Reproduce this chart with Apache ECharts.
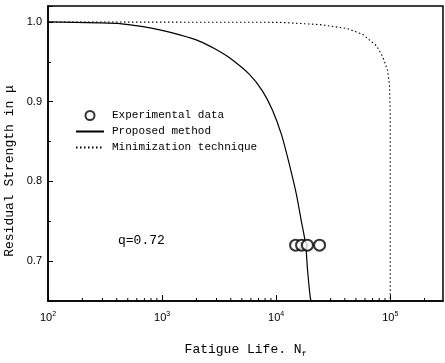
<!DOCTYPE html>
<html>
<head>
	<meta charset="utf-8">
	<title>Residual strength</title>
	<script src="https://cdn.jsdelivr.net/npm/echarts@6/dist/echarts.min.js"></script>
	<style>
		body{margin:0;background:#fff;}
		#main{width:445px;height:363px;}
	</style>
</head>
<body>
	<div id="main"></div>
	<script>
		// proposed method (solid)
		var propX = [100, 285, 427, 638, 955, 1430, 2140, 2900, 3920, 5860, 7620, 9310, 11170, 12860, 15030, 16630, 18130, 18880, 19910, 20230];
		var propY = [1.0, 0.9988, 0.998, 0.9947, 0.990, 0.9837, 0.9757, 0.9663, 0.9548, 0.934, 0.913, 0.889, 0.858, 0.825, 0.784, 0.750, 0.721, 0.687, 0.654, 0.65];
		// minimization technique (dotted)
		var minX = [100, 10740, 24000, 41400, 57100, 75900, 85700, 94600, 98500, 100000, 100000];
		var minY = [1.0, 0.9995, 0.9967, 0.9919, 0.9846, 0.970, 0.9566, 0.9396, 0.9213, 0.885, 0.65];
		// experimental data
		var expX = [14800, 16700, 18800, 24000];
		var expY = [0.72, 0.72, 0.72, 0.72];
		// minor ticks of the log axis
		var minorX = [200, 300, 400, 500, 600, 700, 800, 900, 2000, 3000, 4000, 5000, 6000, 7000, 8000, 9000,
			20000, 30000, 40000, 50000, 60000, 70000, 80000, 90000, 200000];

		var yMin = 0.65, yMax = 1.02;
		var xMin = 100, xMax = 290000;
		var mono = '"Liberation Mono", monospace';

		function zip(a, b){
			var out = [];
			for(var i = 0; i < a.length; i++){
				out.push([a[i], b[i]]);
			}
			return out;
		}

		var chart = echarts.init(document.getElementById('main'));
		chart.setOption({
			animation: false,
			backgroundColor: '#fff',
			grid: {left: 48, right: 2, top: 6, bottom: 52, show: true, borderColor: '#000', borderWidth: 1.5},
			legend: {
				data: [
					{name: 'Experimental data'},
					{name: 'Proposed method', itemStyle: {opacity: 0}},
					{name: 'Minimization technique', itemStyle: {opacity: 0}}
				],
				orient: 'vertical',
				left: 75,
				top: 110,
				padding: 0,
				itemWidth: 28,
				itemHeight: 9,
				itemGap: 5,
				textStyle: {fontFamily: mono, fontSize: 11, color: '#000', lineHeight: 9, padding: [0, 0, 0, 3]}
			},
			xAxis: {
				type: 'log',
				logBase: 10,
				min: xMin,
				max: xMax,
				splitLine: {show: false},
				axisLine: {lineStyle: {color: '#000', width: 1.5}},
				axisTick: {inside: true, length: 6, lineStyle: {color: '#000'}},
				axisLabel: {
					margin: 10,
					showMaxLabel: false,
					color: '#000',
					fontFamily: 'Liberation Sans',
					fontSize: 11,
					formatter: function(v){
						return '10{sup|' + Math.round(Math.log10(v)) + '}';
					},
					rich: {sup: {fontSize: 7, fontFamily: 'Liberation Sans', verticalAlign: 'top', padding: [0, 0, 6, 0]}}
				},
				name: '{a|Fatigue Life. N}{s|f}',
				nameLocation: 'middle',
				nameGap: 41,
				nameTextStyle: {
					rich: {
						a: {fontFamily: mono, fontSize: 13, color: '#000'},
						s: {fontFamily: mono, fontSize: 8, color: '#000', padding: [8, 0, 0, 0]}
					}
				}
			},
			yAxis: {
				type: 'value',
				min: yMin,
				max: yMax,
				splitNumber: 4,
				splitLine: {show: false},
				axisLine: {lineStyle: {color: '#000', width: 1.5}},
				axisTick: {inside: true, length: 5, lineStyle: {color: '#000'}},
				minorTick: {show: true, splitNumber: 2, length: 3, lineStyle: {color: '#000'}},
				axisLabel: {
					margin: 6,
					showMinLabel: false,
					showMaxLabel: false,
					color: '#000',
					fontFamily: 'Liberation Sans',
					fontSize: 11,
					formatter: function(v){ return v.toFixed(1); }
				}
			},
			graphic: [
				{
					type: 'text', x: 10, y: 171, rotation: Math.PI / 2,
					style: {text: 'Residual Strength in \u03bc', font: '13px ' + mono, fill: '#000', align: 'center', verticalAlign: 'middle'}
				},
				{
					type: 'text', x: 118, y: 241,
					style: {text: 'q=0.72', font: '13px ' + mono, fill: '#000', align: 'left', verticalAlign: 'middle'}
				}
			],
			series: [
				{
					name: 'Experimental data',
					type: 'scatter',
					symbol: 'emptyCircle',
					symbolSize: 11,
					itemStyle: {color: '#000', borderColor: '#000', borderWidth: 1},
					data: zip(expX, expY),
					z: 3
				},
				{
					name: 'Proposed method',
					type: 'line',
					symbol: 'none',
					smooth: 0.2,
					lineStyle: {color: '#000', width: 1.2},
					itemStyle: {color: '#000'},
					data: zip(propX, propY)
				},
				{
					name: 'Minimization technique',
					type: 'line',
					symbol: 'none',
					lineStyle: {color: '#000', width: 1.1, type: [1.5, 2.5]},
					itemStyle: {color: '#000'},
					data: zip(minX, minY)
				},
				{
					// minor ticks on the bottom axis
					type: 'custom',
					silent: true,
					data: minorX.map(function(v){ return [v, yMin]; }),
					renderItem: function(params, api){
						var p = api.coord([api.value(0), api.value(1)]);
						return {
							type: 'line',
							shape: {x1: p[0], y1: p[1], x2: p[0], y2: p[1] - 3},
							style: {stroke: '#000', lineWidth: 1}
						};
					}
				}
			]
		});
	</script>
</body>
</html>
